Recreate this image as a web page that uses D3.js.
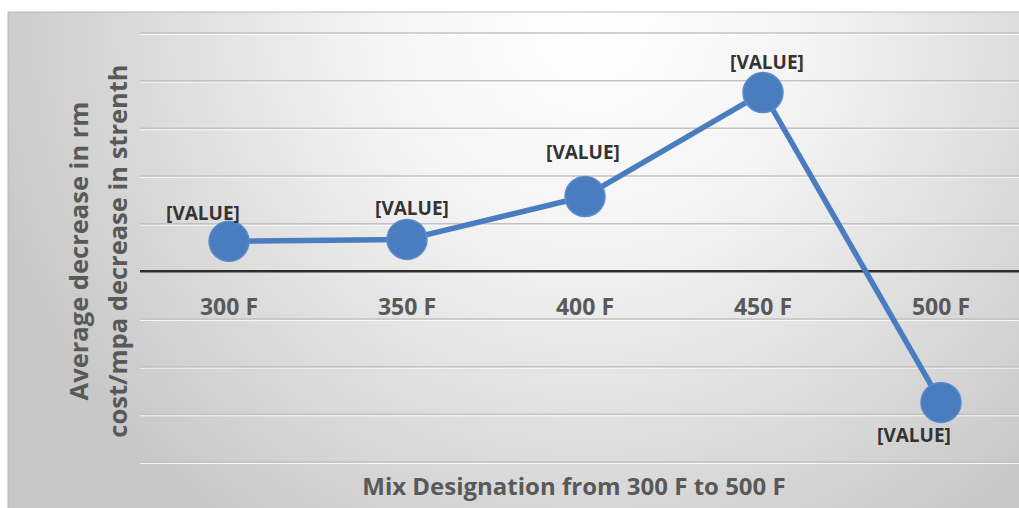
<!DOCTYPE html>
<html>
<head>
<meta charset="utf-8">
<script src="https://cdn.jsdelivr.net/npm/d3@7"></script>
<style>
  html, body { margin: 0; padding: 0; background: #ffffff; }
  svg { display: block; }
</style>
</head>
<body>
<svg id="chart" width="1019" height="508"></svg>
<script>
// Mix designations and the average decrease per MPa for each one
const categories = ["300 F", "350 F", "400 F", "450 F", "500 F"];
const values = [0.63, 0.67, 1.57, 3.75, -2.75];
const dataLabels = ["[VALUE]", "[VALUE]", "[VALUE]", "[VALUE]", "[VALUE]"];
const gridTicks = [-4, -3, -2, -1, 0, 1, 2, 3, 4, 5];
const yTitleLines = ["Average decrease in rm", "cost/mpa decrease in strenth"];
const xTitle = "Mix Designation from 300 F to 500 F";

// label placement relative to each marker (dx, dy in px)
const labelNudge = [[-26, -28], [5, -31], [-2, -44], [4, -30], [-27, 33]];

const W = 1019, H = 508;
const frame = { left: 8, top: 12 };
const plot = { left: 140, right: 1030, top: 33, bottom: 462 };
const lineColor = "#4a7dbf";
const textGrey = "#595959";
const font = "'Open Sans', 'DejaVu Sans', sans-serif";

const svg = d3.select("#chart");
const defs = svg.append("defs");

const bg = defs.append("radialGradient")
  .attr("id", "bgGrad")
  .attr("gradientUnits", "userSpaceOnUse")
  .attr("cx", 590).attr("cy", 20).attr("r", 620);
bg.append("stop").attr("offset", "0%").attr("stop-color", "#ffffff");
bg.append("stop").attr("offset", "35%").attr("stop-color", "#f4f4f4");
bg.append("stop").attr("offset", "100%").attr("stop-color", "#c8c8c8");

// chart area background
svg.append("rect")
  .attr("x", frame.left).attr("y", frame.top)
  .attr("width", W - frame.left + 2).attr("height", H - frame.top + 2)
  .attr("fill", "url(#bgGrad)")
  .attr("stroke", "#b8b8b8").attr("stroke-width", 1);

const x = d3.scalePoint()
  .domain(categories)
  .range([plot.left, plot.right])
  .padding(0.5);

const y = d3.scaleLinear()
  .domain([d3.min(gridTicks), d3.max(gridTicks)])
  .range([plot.bottom, plot.top]);

// horizontal gridlines
const grid = svg.append("g").attr("class", "grid");
grid.selectAll("line.shade")
  .data(gridTicks.filter(t => t !== 0))
  .join("line")
  .attr("class", "shade")
  .attr("x1", plot.left).attr("x2", W)
  .attr("y1", d => y(d) + 1.5).attr("y2", d => y(d) + 1.5)
  .attr("stroke", "#ffffff").attr("stroke-opacity", 0.8).attr("stroke-width", 1);
grid.selectAll("line.major")
  .data(gridTicks.filter(t => t !== 0))
  .join("line")
  .attr("class", "major")
  .attr("x1", plot.left).attr("x2", W)
  .attr("y1", d => y(d)).attr("y2", d => y(d))
  .attr("stroke", "#c2c2c2").attr("stroke-width", 1.5);

// zero line acting as the category axis
svg.append("line")
  .attr("x1", plot.left).attr("x2", W)
  .attr("y1", y(0)).attr("y2", y(0))
  .attr("stroke", "#2e2e2e").attr("stroke-width", 2.5);

// category labels under the zero line
svg.append("g")
  .selectAll("text")
  .data(categories)
  .join("text")
  .attr("x", d => x(d))
  .attr("y", y(0) + 44)
  .attr("text-anchor", "middle")
  .attr("font-family", font)
  .attr("font-weight", 700)
  .attr("font-size", 23)
  .attr("fill", textGrey)
  .text(d => d);

const points = categories.map((c, i) => ({ c, v: values[i], label: dataLabels[i], nudge: labelNudge[i] }));

// series line
const line = d3.line().x(d => x(d.c)).y(d => y(d.v));
svg.append("path")
  .datum(points)
  .attr("d", line)
  .attr("fill", "none")
  .attr("stroke", lineColor)
  .attr("stroke-width", 5.5)
  .attr("stroke-linejoin", "round");

// markers
svg.append("g")
  .selectAll("circle")
  .data(points)
  .join("circle")
  .attr("cx", d => x(d.c))
  .attr("cy", d => y(d.v))
  .attr("r", 20)
  .attr("fill", lineColor)
  .attr("stroke", "#5a8bcc")
  .attr("stroke-width", 1.5);

// data labels
svg.append("g")
  .selectAll("text")
  .data(points)
  .join("text")
  .attr("x", d => x(d.c) + d.nudge[0])
  .attr("y", d => y(d.v) + d.nudge[1])
  .attr("dy", "0.35em")
  .attr("text-anchor", "middle")
  .attr("font-family", font)
  .attr("font-weight", 700)
  .attr("font-size", 19)
  .attr("fill", "#333333")
  .text(d => d.label);

// y-axis title (two lines)
const yTitle = svg.append("text")
  .attr("transform", "translate(0,251) rotate(-90)")
  .attr("text-anchor", "middle")
  .attr("font-family", font)
  .attr("font-weight", 700)
  .attr("font-size", 25.5)
  .attr("fill", textGrey);
yTitle.selectAll("tspan")
  .data(yTitleLines)
  .join("tspan")
  .attr("x", 0)
  .attr("y", (d, i) => 88 + i * 39)
  .text(d => d);

// x-axis title
svg.append("text")
  .attr("x", 574)
  .attr("y", 495)
  .attr("text-anchor", "middle")
  .attr("font-family", font)
  .attr("font-weight", 700)
  .attr("font-size", 24)
  .attr("fill", textGrey)
  .text(xTitle);
</script>
</body>
</html>
